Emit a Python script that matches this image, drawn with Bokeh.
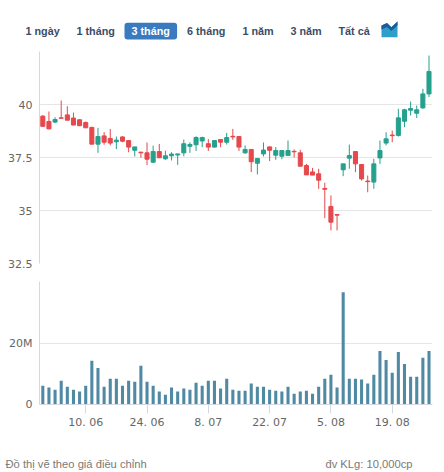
from bokeh.plotting import figure
from bokeh.layouts import column
from bokeh.models import Range1d, FixedTicker, ColumnDataSource
from bokeh.embed import file_html
from bokeh.resources import INLINE
from bokeh.core.properties import value

# ---------------- data ----------------
opens = [39.45, 39.20, 39.17, 39.37, 39.51, 39.36, 39.28, 39.15, 38.92, 38.13,
         38.52, 38.40, 38.24, 38.47, 38.30, 37.84, 37.75, 37.72, 37.28, 37.78,
         37.44, 37.58, 37.62, 37.72, 38.03, 38.10, 38.28, 38.15, 37.99, 38.35,
         38.22, 38.50, 38.49, 37.72, 37.88, 37.23, 37.67, 38.00, 37.61, 37.56,
         37.60, 37.79, 37.72, 37.12, 36.82, 36.73, 36.04, 35.19, 34.81, 36.92,
         37.47, 37.78, 37.17, 36.39, 36.34, 37.48, 38.18, 38.56, 38.54, 39.21,
         39.73, 39.59, 39.84, 40.50]
highs = [39.50, 39.67, 39.40, 40.19, 39.92, 39.62, 39.30, 39.20, 38.95, 38.90,
         38.70, 38.85, 38.49, 38.50, 38.32, 38.00, 37.77, 38.21, 38.06, 38.14,
         37.82, 37.75, 37.67, 38.35, 38.22, 38.50, 38.48, 38.37, 38.30, 38.36,
         38.66, 38.85, 38.50, 38.07, 37.90, 37.45, 38.21, 38.02, 37.99, 37.83,
         38.30, 37.88, 37.86, 37.20, 37.01, 36.97, 36.31, 35.71, 34.82, 37.20,
         38.11, 37.78, 37.17, 36.65, 37.44, 38.30, 38.69, 38.77, 39.80, 39.80,
         40.14, 39.95, 40.74, 42.31]
lows = [38.95, 38.84, 39.12, 39.35, 39.26, 39.02, 38.98, 38.90, 38.13, 37.72,
        38.10, 38.07, 37.90, 38.22, 37.75, 37.55, 37.49, 37.14, 37.24, 37.47,
        37.39, 37.36, 37.15, 37.56, 37.72, 37.81, 37.99, 37.81, 37.97, 37.99,
        38.11, 38.33, 37.81, 37.67, 36.81, 36.70, 37.55, 37.33, 37.39, 37.42,
        37.60, 37.50, 37.09, 36.68, 36.67, 36.02, 34.64, 34.06, 34.06, 36.62,
        36.97, 36.81, 36.41, 35.86, 36.02, 37.20, 38.07, 38.22, 38.49, 38.93,
        39.48, 39.36, 39.80, 40.35]
closes = [38.97, 38.85, 39.29, 39.35, 39.26, 39.03, 39.00, 38.90, 38.13, 38.49,
          38.22, 38.18, 38.32, 38.27, 37.99, 38.00, 37.72, 37.42, 37.78, 37.49,
          37.58, 37.66, 37.67, 38.15, 38.11, 38.44, 38.44, 37.99, 38.30, 38.22,
          38.44, 38.47, 37.99, 37.88, 37.30, 37.45, 37.85, 37.84, 37.83, 37.83,
          37.83, 37.77, 37.09, 36.68, 36.67, 36.43, 36.00, 34.45, 34.78, 37.20,
          37.59, 37.20, 36.49, 36.36, 37.20, 37.83, 38.38, 38.53, 39.37, 39.75,
          39.81, 39.75, 40.50, 41.56]
volumes_m = [6.1, 5.5, 4.8, 7.7, 5.8, 4.8, 4.2, 6.1, 14.2, 11.9,
             5.8, 8.4, 8.4, 6.1, 7.7, 7.4, 12.6, 7.4, 6.1, 4.2,
             3.2, 5.5, 4.2, 5.2, 4.8, 7.1, 6.1, 7.7, 7.7, 5.2,
             8.4, 4.8, 4.5, 4.5, 6.8, 5.8, 5.8, 4.8, 4.5, 4.2,
             5.8, 3.5, 4.2, 4.5, 3.5, 5.8, 8.4, 9.7, 5.5, 36.5,
             8.4, 8.4, 8.1, 6.8, 9.7, 17.4, 14.5, 10.3, 17.1, 13.2,
             9.0, 9.0, 15.2, 17.4]
tick_idx = [7, 17, 27, 37, 47, 57]
tick_labels = ["10. 06", "24. 06", "8. 07", "22. 07", "5. 08", "19. 08"]
price_ticks = [32.5, 35, 37.5, 40, 42.5]
price_tick_labels = ["32.5", "35", "37.5", "40", ""]
vol_ticks = [0, 20]
vol_tick_labels = ["0", "20M"]
buttons = ["1 ngày", "1 tháng", "3 tháng", "6 tháng", "1 năm", "3 năm", "Tất cả"]
selected_button = "3 tháng"
footer_left = "Đồ thị vẽ theo giá điều chỉnh"
footer_right = "đv KLg: 10,000cp"

# ---------------- style / layout ----------------
W = 444
RED = "#e5484d"
GREEN = "#25a08d"
VOL = "#4f89a3"
GRID = "#e6e6e6"
AXIS = "#d3d9e2"
LABEL = "#666666"
BTN = "#3b4d68"
BTN_SEL = "#3a7bbf"

FL, FRB = 39, 12          # frame left border / right border
HDR_H = 46                # header strip: page y 0..46
P_TOP, P_BOT = 51, 263    # price frame (page y)
P_END = 271               # price figure ends
V_TOP, V_BOT = 281, 404   # volume frame (page y)
V_END = 440               # volume figure ends
FTR_END = 472

n = len(opens)
xr = Range1d(-0.54, 63.57)

src = ColumnDataSource(dict(
    x=list(range(n)),
    high=highs, low=lows,
    top=[max(o, c) for o, c in zip(opens, closes)],
    bottom=[min(o, c) for o, c in zip(opens, closes)],
    color=[GREEN if c >= o else RED for o, c in zip(opens, closes)],
    vol=volumes_m,
))

def style_y(ax):
    ax.axis_line_color = AXIS
    ax.major_tick_line_color = None
    ax.major_tick_out = 0
    ax.major_tick_in = 0
    ax.minor_tick_line_color = None
    ax.minor_tick_out = 0
    ax.major_label_text_font = "DejaVu Sans"
    ax.major_label_text_font_size = "11px"
    ax.major_label_text_color = LABEL
    ax.major_label_standoff = 7

def blank(height, y0, y1):
    f = figure(width=W, height=height, x_range=Range1d(0, W), y_range=Range1d(y1, y0),
               output_backend="svg", toolbar_location=None, min_border=0,
               min_border_left=0, min_border_right=0, min_border_top=0, min_border_bottom=0,
               x_axis_location=None, y_axis_location=None)
    f.grid.visible = False
    f.outline_line_color = None
    return f

# ---------------- header (range selector) ----------------
hdr = blank(HDR_H, 0, HDR_H)
hdr.rect(x=[150.3], y=[30.6], width=[52.6], height=[16.8], fill_color=BTN_SEL,
         line_color=None, border_radius=3)
btn_x = [25, 76, 131, 186.5, 242, 290, 338]
hdr.text(x=btn_x, y=[30.8] * len(buttons), text=buttons,
         text_color=[("white" if b == selected_button else BTN) for b in buttons],
         text_font=value("Liberation Sans"), text_font_size="10.8px",
         text_font_style="bold", text_baseline="middle", text_align="left")
hdr.patch(x=[381, 381, 386.5, 390.8, 397, 397], y=[36.7, 25, 22.6, 26.7, 21, 36.7],
          fill_color="#2e9fcb", line_color=None)
hdr.patch(x=[381, 386.5, 390.8, 397, 397, 390.8, 386.5, 381],
          y=[25, 22.6, 26.7, 21, 25, 30.5, 26.5, 29],
          fill_color="#1f5b98", line_color=None)

# ---------------- price panel ----------------
pp = figure(width=W, height=P_END - HDR_H, x_range=xr, y_range=Range1d(32.5, 42.5),
            output_backend="svg", toolbar_location=None, x_axis_location=None,
            min_border_left=FL, min_border_right=FRB,
            min_border_top=P_TOP - HDR_H, min_border_bottom=P_END - P_BOT)
pp.outline_line_color = None
pp.xgrid.visible = False
pp.yaxis.ticker = FixedTicker(ticks=price_ticks)
pp.yaxis.major_label_overrides = {t: l for t, l in zip(price_ticks, price_tick_labels)}
pp.ygrid.grid_line_color = GRID
for ax in pp.yaxis:
    style_y(ax)
pp.segment(x0="x", y0="high", x1="x", y1="low", line_color="color", line_width=1, source=src)
pp.vbar(x="x", width=0.66, top="top", bottom="bottom", fill_color="color",
        line_color="color", line_width=1, source=src)

# ---------------- volume panel ----------------
vp = figure(width=W, height=V_END - P_END, x_range=xr, y_range=Range1d(0, 40),
            output_backend="svg", toolbar_location=None,
            min_border_left=FL, min_border_right=FRB,
            min_border_top=V_TOP - P_END, min_border_bottom=V_END - V_BOT)
vp.outline_line_color = None
vp.xgrid.visible = False
vp.yaxis.ticker = FixedTicker(ticks=vol_ticks)
vp.yaxis.major_label_overrides = {t: l for t, l in zip(vol_ticks, vol_tick_labels)}
vp.ygrid.grid_line_color = GRID
for ax in vp.yaxis:
    style_y(ax)
vp.xaxis.ticker = FixedTicker(ticks=tick_idx)
vp.xaxis.major_label_overrides = {t: l for t, l in zip(tick_idx, tick_labels)}
for ax in vp.xaxis:
    ax.axis_line_color = AXIS
    ax.major_tick_line_color = AXIS
    ax.major_tick_out = 9
    ax.major_tick_in = 0
    ax.minor_tick_line_color = None
    ax.minor_tick_out = 0
    ax.major_label_text_font = "DejaVu Sans"
    ax.major_label_text_font_size = "11px"
    ax.major_label_text_color = LABEL
    ax.major_label_standoff = 2
vp.vbar(x="x", width=0.5, top="vol", bottom=0, fill_color=VOL, line_color=None, source=src)

# ---------------- footer ----------------
ftr = blank(FTR_END - V_END, V_END, FTR_END)
ftr.text(x=[5, 412], y=[463.5, 463.5], text=[footer_left, footer_right],
         text_align=["left", "right"], text_baseline="alphabetic",
         text_font=value("Liberation Sans"), text_font_size="11.2px", text_color="#7a7a7a")

layout = column(column(hdr), pp, vp, column(ftr))
open("out.html", "w").write(file_html(layout, INLINE))
